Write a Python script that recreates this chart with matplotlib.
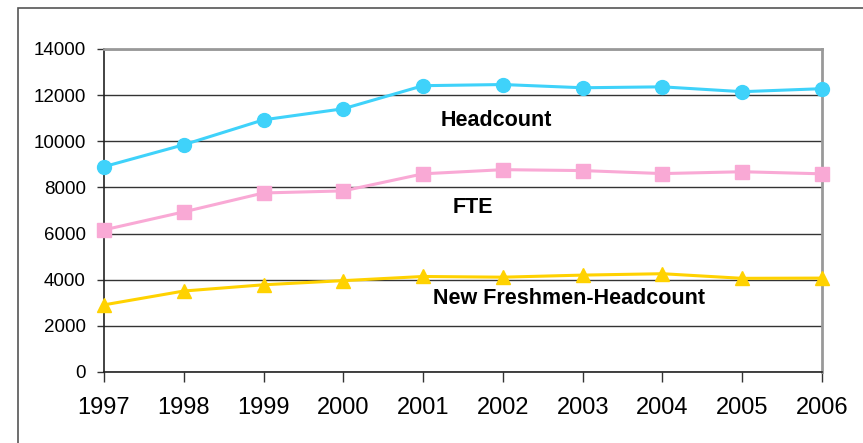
import matplotlib
matplotlib.use("Agg")
import matplotlib.pyplot as plt
from matplotlib.patches import Rectangle

plt.rcParams["font.family"] = ["Liberation Sans", "DejaVu Sans"]

years = [1997, 1998, 1999, 2000, 2001, 2002, 2003, 2004, 2005, 2006]
headcount = [8900, 9850, 10930, 11410, 12410, 12460, 12320, 12360, 12150, 12280]
fte = [6160, 6940, 7760, 7850, 8590, 8770, 8730, 8600, 8680, 8590]
freshmen = [2910, 3510, 3780, 3960, 4140, 4110, 4200, 4260, 4060, 4070]
y_ticks = [0, 2000, 4000, 6000, 8000, 10000, 12000, 14000]

fig = plt.figure(figsize=(8.63, 4.43), dpi=100)
fig.patch.set_facecolor("white")

# outer chart frame
fig.patches.append(Rectangle((18 / 863, -0.1), 1.0, 1 - 8 / 443 + 0.1,
                             transform=fig.transFigure, fill=False,
                             edgecolor="#555555", linewidth=1.2))

ax = fig.add_axes([104 / 863, 71 / 443, 718 / 863, 323 / 443])

ax.plot(years, headcount, color="#3FD2FA", marker="o", markersize=10,
        linewidth=2.2, zorder=3, clip_on=False)
ax.plot(years, fte, color="#F9A9D5", marker="s", markersize=9.5,
        linewidth=2.2, zorder=3, clip_on=False)
ax.plot(years, freshmen, color="#FFD200", marker="^", markersize=10,
        linewidth=2.2, zorder=3, clip_on=False)

ax.text(2001.92, 10890, "Headcount", fontsize=15.5, fontweight="bold",
        ha="center", va="center")
ax.text(2001.62, 7120, "FTE", fontsize=15.5, fontweight="bold",
        ha="center", va="center")
ax.text(2002.83, 3170, "New Freshmen-Headcount", fontsize=15.5,
        fontweight="bold", ha="center", va="center")

ax.set_xlim(1997, 2006)
ax.set_ylim(0, 14000)
ax.set_xticks(years)
ax.set_yticks(y_ticks)
ax.grid(True, axis="y", color="#333333", linewidth=1.0)
ax.set_axisbelow(True)

ax.tick_params(axis="x", labelsize=17, length=7, width=1, pad=11,
               direction="out", color="#333333")
ax.tick_params(axis="y", labelsize=13.5, length=5, width=1, pad=8,
               direction="out", color="#333333")

ax.spines["left"].set_color("#222222")
ax.spines["bottom"].set_color("#222222")
ax.spines["left"].set_linewidth(1.2)
ax.spines["bottom"].set_linewidth(1.2)
ax.spines["top"].set_color("#999999")
ax.spines["top"].set_linewidth(2)
ax.spines["right"].set_color("#999999")
ax.spines["right"].set_linewidth(2)

fig.savefig("out.png", dpi=100, facecolor="white")
